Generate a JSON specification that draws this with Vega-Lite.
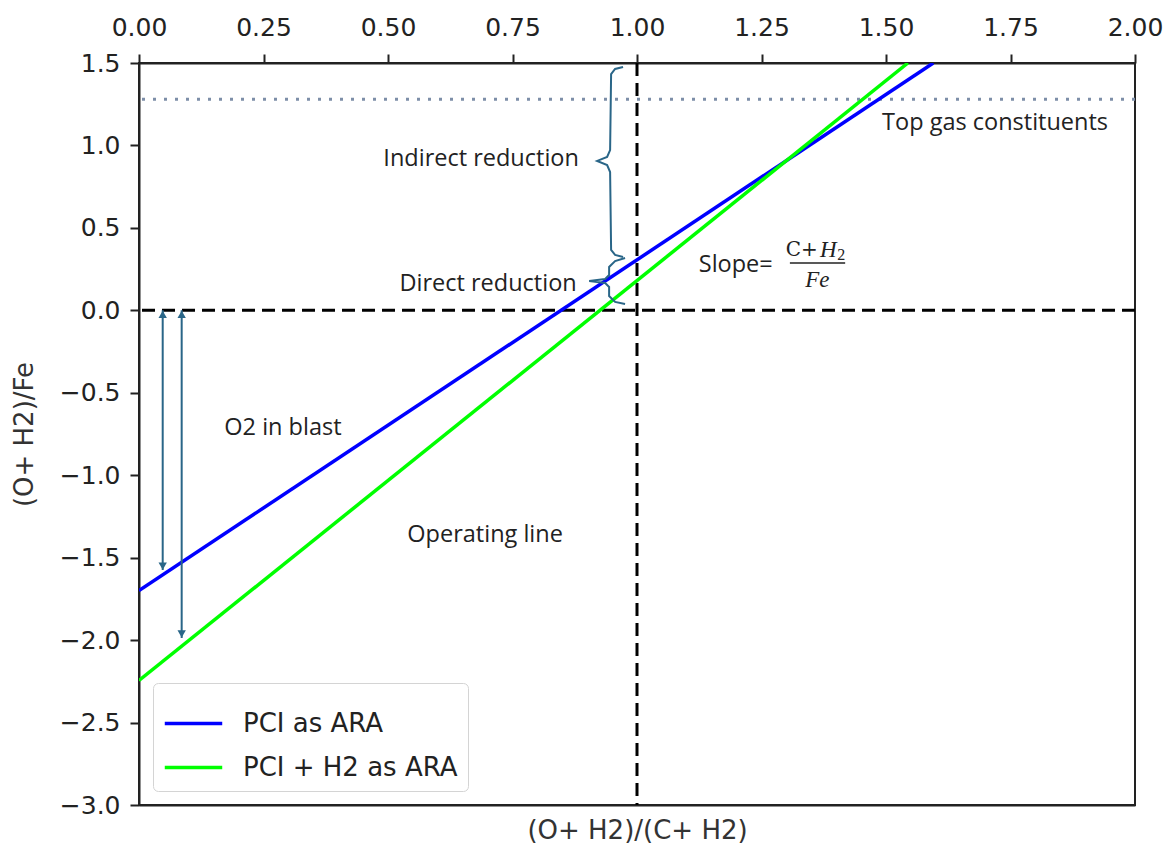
{
  "$schema": "https://vega.github.io/schema/vega-lite/v6.json",
  "width": 996,
  "height": 742,
  "autosize": "none",
  "padding": {"left": 139, "top": 63, "right": 37, "bottom": 40},
  "background": "white",
  "config": {
    "view": {"stroke": "#222", "strokeWidth": 2},
    "axis": {"grid": false, "domainColor": "#222", "domainWidth": 2, "tickColor": "#222", "tickWidth": 2, "tickSize": 9,
             "labelFont": "DejaVu Sans", "labelFontSize": 25, "labelColor": "#222", "titleFont": "DejaVu Sans", "titleFontSize": 26, "titleColor": "#333", "titleFontWeight": "normal"},
    "legend": {"orient": "none", "legendX": 14, "legendY": 620, "title": null, "symbolType": "stroke", "symbolStrokeWidth": 3.5, "symbolSize": 3300,
               "labelFont": "DejaVu Sans", "labelFontSize": 26, "labelColor": "#222", "labelLimit": 500, "strokeColor": "#d4d4d4", "cornerRadius": 5, "padding": 10, "fillColor": "white", "rowPadding": -17, "labelOffset": 19}
  },
  "datasets": {
    "ops": [
      {"series": "PCI as ARA", "x": 0.0, "y": -1.70},
      {"series": "PCI as ARA", "x": 1.595, "y": 1.5},
      {"series": "PCI + H2 as ARA", "x": 0.0, "y": -2.245},
      {"series": "PCI + H2 as ARA", "x": 1.544, "y": 1.5}
    ],
    "braces": [
      {"b": "indirect", "i": 1, "x": 0.972, "y": 1.476},
      {"b": "indirect", "i": 2, "x": 0.956, "y": 1.464},
      {"b": "indirect", "i": 3, "x": 0.948, "y": 1.433},
      {"b": "indirect", "i": 4, "x": 0.946, "y": 0.972},
      {"b": "indirect", "i": 5, "x": 0.940, "y": 0.930},
      {"b": "indirect", "i": 6, "x": 0.920, "y": 0.906},
      {"b": "indirect", "i": 7, "x": 0.940, "y": 0.881},
      {"b": "indirect", "i": 8, "x": 0.946, "y": 0.839},
      {"b": "indirect", "i": 9, "x": 0.948, "y": 0.366},
      {"b": "indirect", "i": 10, "x": 0.956, "y": 0.336},
      {"b": "indirect", "i": 11, "x": 0.972, "y": 0.324},
      {"b": "direct", "i": 1, "x": 0.976, "y": 0.317},
      {"b": "direct", "i": 2, "x": 0.956, "y": 0.299},
      {"b": "direct", "i": 3, "x": 0.944, "y": 0.263},
      {"b": "direct", "i": 4, "x": 0.944, "y": 0.214},
      {"b": "direct", "i": 5, "x": 0.936, "y": 0.190},
      {"b": "direct", "i": 6, "x": 0.904, "y": 0.178},
      {"b": "direct", "i": 7, "x": 0.936, "y": 0.166},
      {"b": "direct", "i": 8, "x": 0.944, "y": 0.142},
      {"b": "direct", "i": 9, "x": 0.944, "y": 0.087},
      {"b": "direct", "i": 10, "x": 0.956, "y": 0.051},
      {"b": "direct", "i": 11, "x": 0.976, "y": 0.039}
    ],
    "arrows": [
      {"x": 0.0476, "y": 0.0, "y2": -1.575},
      {"x": 0.0857, "y": 0.0, "y2": -1.987}
    ],
    "labels": [
      {"x": 1.719, "y": 1.136, "label": "Top gas constituents"},
      {"x": 0.687, "y": 0.918, "label": "Indirect reduction"},
      {"x": 0.701, "y": 0.160, "label": "Direct reduction"},
      {"x": 0.289, "y": -0.713, "label": "O2 in blast"},
      {"x": 0.695, "y": -1.362, "label": "Operating line"}
    ]
  },
  "resolve": {"axis": {"x": "independent"}},
  "layer": [
    {
      "data": {"values": [{"v": 1.28}]},
      "mark": {"type": "rule", "color": "#7d8ea8", "strokeWidth": 3, "strokeDash": [3, 8]},
      "encoding": {"y": {"field": "v", "type": "quantitative", "scale": {"domain": [-3, 1.5], "nice": false, "zero": false}, "title": "(O+ H2)/Fe"}}
    },
    {
      "data": {"values": [{"v": 1.0}]},
      "mark": {"type": "rule", "color": "black", "strokeWidth": 3, "strokeDash": [13, 7]},
      "encoding": {"x": {"field": "v", "type": "quantitative", "scale": {"domain": [0, 2], "nice": false, "zero": false},
        "axis": {"orient": "bottom", "title": "(O+ H2)/(C+ H2)", "labels": false, "ticks": false, "domain": true, "titlePadding": 12}}}
    },
    {
      "data": {"values": [{"v": 0.0}]},
      "mark": {"type": "rule", "color": "black", "strokeWidth": 3, "strokeDash": [13, 7]},
      "encoding": {"y": {"field": "v", "type": "quantitative", "title": "(O+ H2)/Fe"}}
    },
    {
      "data": {"name": "ops"},
      "mark": {"type": "line", "strokeWidth": 3.5, "clip": true},
      "encoding": {
        "x": {"field": "x", "type": "quantitative",
          "axis": {"orient": "top", "title": null, "values": [0, 0.25, 0.5, 0.75, 1.0, 1.25, 1.5, 1.75, 2.0], "format": ".2f", "labelPadding": 14, "labelFlush": false}},
        "y": {"field": "y", "type": "quantitative", "title": "(O+ H2)/Fe",
          "axis": {"values": [-3, -2.5, -2, -1.5, -1, -0.5, 0, 0.5, 1, 1.5], "format": ".1f", "labelPadding": 10, "titlePadding": 22, "labelFlush": false}},
        "color": {"field": "series", "type": "nominal", "scale": {"domain": ["PCI as ARA", "PCI + H2 as ARA"], "range": ["#0000ff", "#00ff00"]}}
      }
    },
    {
      "data": {"name": "braces"},
      "mark": {"type": "line", "color": "#2a6688", "strokeWidth": 2},
      "encoding": {
        "x": {"field": "x", "type": "quantitative", "axis": null},
        "y": {"field": "y", "type": "quantitative", "title": "(O+ H2)/Fe"},
        "detail": {"field": "b"},
        "order": {"field": "i", "type": "quantitative"}
      }
    },
    {
      "data": {"name": "arrows"},
      "mark": {"type": "rule", "color": "#2a6688", "strokeWidth": 2},
      "encoding": {
        "x": {"field": "x", "type": "quantitative", "axis": null},
        "y": {"field": "y", "type": "quantitative", "title": "(O+ H2)/Fe"},
        "y2": {"field": "y2"}
      }
    },
    {
      "data": {"name": "arrows"},
      "mark": {"type": "point", "shape": "triangle-up", "filled": true, "color": "#2a6688", "size": 70, "yOffset": 4, "opacity": 1},
      "encoding": {
        "x": {"field": "x", "type": "quantitative", "axis": null},
        "y": {"field": "y", "type": "quantitative", "title": "(O+ H2)/Fe"}
      }
    },
    {
      "data": {"name": "arrows"},
      "mark": {"type": "point", "shape": "triangle-down", "filled": true, "color": "#2a6688", "size": 70, "yOffset": -4, "opacity": 1},
      "encoding": {
        "x": {"field": "x", "type": "quantitative", "axis": null},
        "y": {"field": "y2", "type": "quantitative", "title": "(O+ H2)/Fe"}
      }
    },
    {
      "data": {"name": "labels"},
      "mark": {"type": "text", "font": "Open Sans", "fontSize": 23.5, "color": "#222", "align": "center", "baseline": "middle"},
      "encoding": {
        "x": {"field": "x", "type": "quantitative", "axis": null},
        "y": {"field": "y", "type": "quantitative", "title": "(O+ H2)/Fe"},
        "text": {"field": "label"}
      }
    },
    {
      "data": {"values": [{"x": 1.124, "y": 0.275, "label": "Slope="}]},
      "mark": {"type": "text", "font": "Open Sans", "fontSize": 23.5, "color": "#222", "align": "left", "baseline": "middle"},
      "encoding": {
        "x": {"field": "x", "type": "quantitative", "axis": null},
        "y": {"field": "y", "type": "quantitative", "title": "(O+ H2)/Fe"},
        "text": {"field": "label"}
      }
    },
    {
      "data": {"values": [{"x": 1.331, "y": 0.366, "label": "C+"}]},
      "mark": {"type": "text", "font": "DejaVu Serif", "fontSize": 20, "color": "#222", "align": "center", "baseline": "middle"},
      "encoding": {
        "x": {"field": "x", "type": "quantitative", "axis": null},
        "y": {"field": "y", "type": "quantitative", "title": "(O+ H2)/Fe"},
        "text": {"field": "label"}
      }
    },
    {
      "data": {"values": [{"x": 1.384, "y": 0.366, "label": "H"}, {"x": 1.362, "y": 0.184, "label": "Fe"}]},
      "mark": {"type": "text", "font": "Liberation Serif", "fontStyle": "italic", "fontSize": 23, "color": "#222", "align": "center", "baseline": "middle"},
      "encoding": {
        "x": {"field": "x", "type": "quantitative", "axis": null},
        "y": {"field": "y", "type": "quantitative", "title": "(O+ H2)/Fe"},
        "text": {"field": "label"}
      }
    },
    {
      "data": {"values": [{"x": 1.410, "y": 0.336, "label": "2"}]},
      "mark": {"type": "text", "font": "Liberation Serif", "fontSize": 16, "color": "#222", "align": "center", "baseline": "middle"},
      "encoding": {
        "x": {"field": "x", "type": "quantitative", "axis": null},
        "y": {"field": "y", "type": "quantitative", "title": "(O+ H2)/Fe"},
        "text": {"field": "label"}
      }
    },
    {
      "data": {"values": [{"x": 1.307, "x2": 1.418, "y": 0.287}]},
      "mark": {"type": "rule", "color": "#222", "strokeWidth": 1.3},
      "encoding": {
        "x": {"field": "x", "type": "quantitative", "axis": null},
        "x2": {"field": "x2"},
        "y": {"field": "y", "type": "quantitative", "title": "(O+ H2)/Fe"}
      }
    }
  ]
}
